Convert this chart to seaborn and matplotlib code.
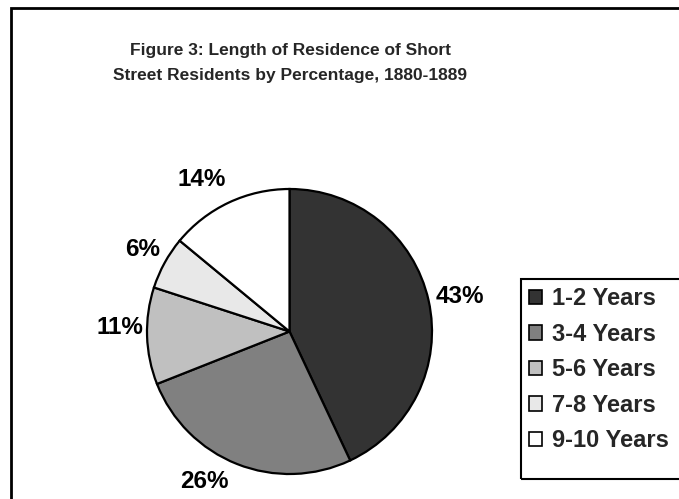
import matplotlib
matplotlib.use('Agg')
import matplotlib.pyplot as plt
import numpy as np
from matplotlib.patches import Rectangle, Patch
import seaborn as sns

# --- Chart data ---
categories = ['1-2 Years', '3-4 Years', '5-6 Years', '7-8 Years', '9-10 Years']
percentages = [43, 26, 11, 6, 14]
slice_colors = ['#333333', '#808080', '#c0c0c0', '#e8e8e8', '#ffffff']
title = 'Figure 3: Length of Residence of Short\nStreet Residents by Percentage, 1880-1889'

# label placement, like Excel's best-fit labels: distance (pie radii) and angle nudge (deg)
label_dist = [1.22, 1.21, 1.19, 1.18, 1.23]
label_nudge = [-1.0, -7.8, -3.2, -0.4, 4.7]

sns.set_theme(style='white')
plt.rcParams['font.family'] = ['Liberation Sans', 'DejaVu Sans']
plt.rcParams['font.weight'] = 'bold'

W, H = 679, 499
fig = plt.figure(figsize=(W / 100, H / 100), dpi=100)
fig.patch.set_facecolor('white')

# outer chart border (right/bottom edges fall outside the image)
fig.patches.append(Rectangle((11 / W, -0.05), 1.1, 1 - 8 / H + 0.05,
                             transform=fig.transFigure, fill=False,
                             edgecolor='black', linewidth=2))

# plot area with gray frame
ax = fig.add_axes([147 / W, 1 - 474 / H, 285 / W, 285 / H])
wedges, texts = ax.pie(
    percentages,
    colors=slice_colors,
    startangle=90,
    counterclock=False,
    radius=1,
    labels=[f'{p}%' for p in percentages],
    labeldistance=1.0,
    wedgeprops=dict(edgecolor='black', linewidth=1.6),
    textprops=dict(fontsize=17.5, fontweight='bold', color='black'),
)
for w in wedges:
    w.set_clip_on(False)
for w, t, d, n in zip(wedges, texts, label_dist, label_nudge):
    mid = np.deg2rad((w.theta1 + w.theta2) / 2 + n)
    t.set_position((d * np.cos(mid), d * np.sin(mid)))
    t.set_horizontalalignment('center')
    t.set_verticalalignment('center')
ax.set_xlim(-1.0, 1.0)
ax.set_ylim(-1.0, 1.0)
ax.set_aspect('equal')
ax.set_xticks([])
ax.set_yticks([])
for s in ax.spines.values():
    s.set_visible(True)
    s.set_edgecolor('#808080')
    s.set_linewidth(1.5)
    s.set_zorder(0)

fig.text(290 / W, 1 - 63 / H, title, ha='center', va='center',
         fontsize=12.5, fontweight='bold', linespacing=1.9)

# legend frame runs past the right edge of the image
fig.patches.append(Rectangle((521 / W, 1 - 479 / H), 0.5, 200 / H,
                             transform=fig.transFigure, fill=False,
                             edgecolor='black', linewidth=1.5))
handles = [Patch(facecolor=c, edgecolor='black', linewidth=1.2, label=l)
           for c, l in zip(slice_colors, categories)]
leg = fig.legend(handles=handles, loc='upper left',
                 bbox_to_anchor=(521 / W, 1 - 279 / H),
                 frameon=False, prop=dict(size=17, weight='bold'),
                 handlelength=0.55, handleheight=0.55, handletextpad=0.4,
                 labelspacing=0.53, borderpad=0.35, borderaxespad=0)

fig.savefig('out.png', dpi=100)
